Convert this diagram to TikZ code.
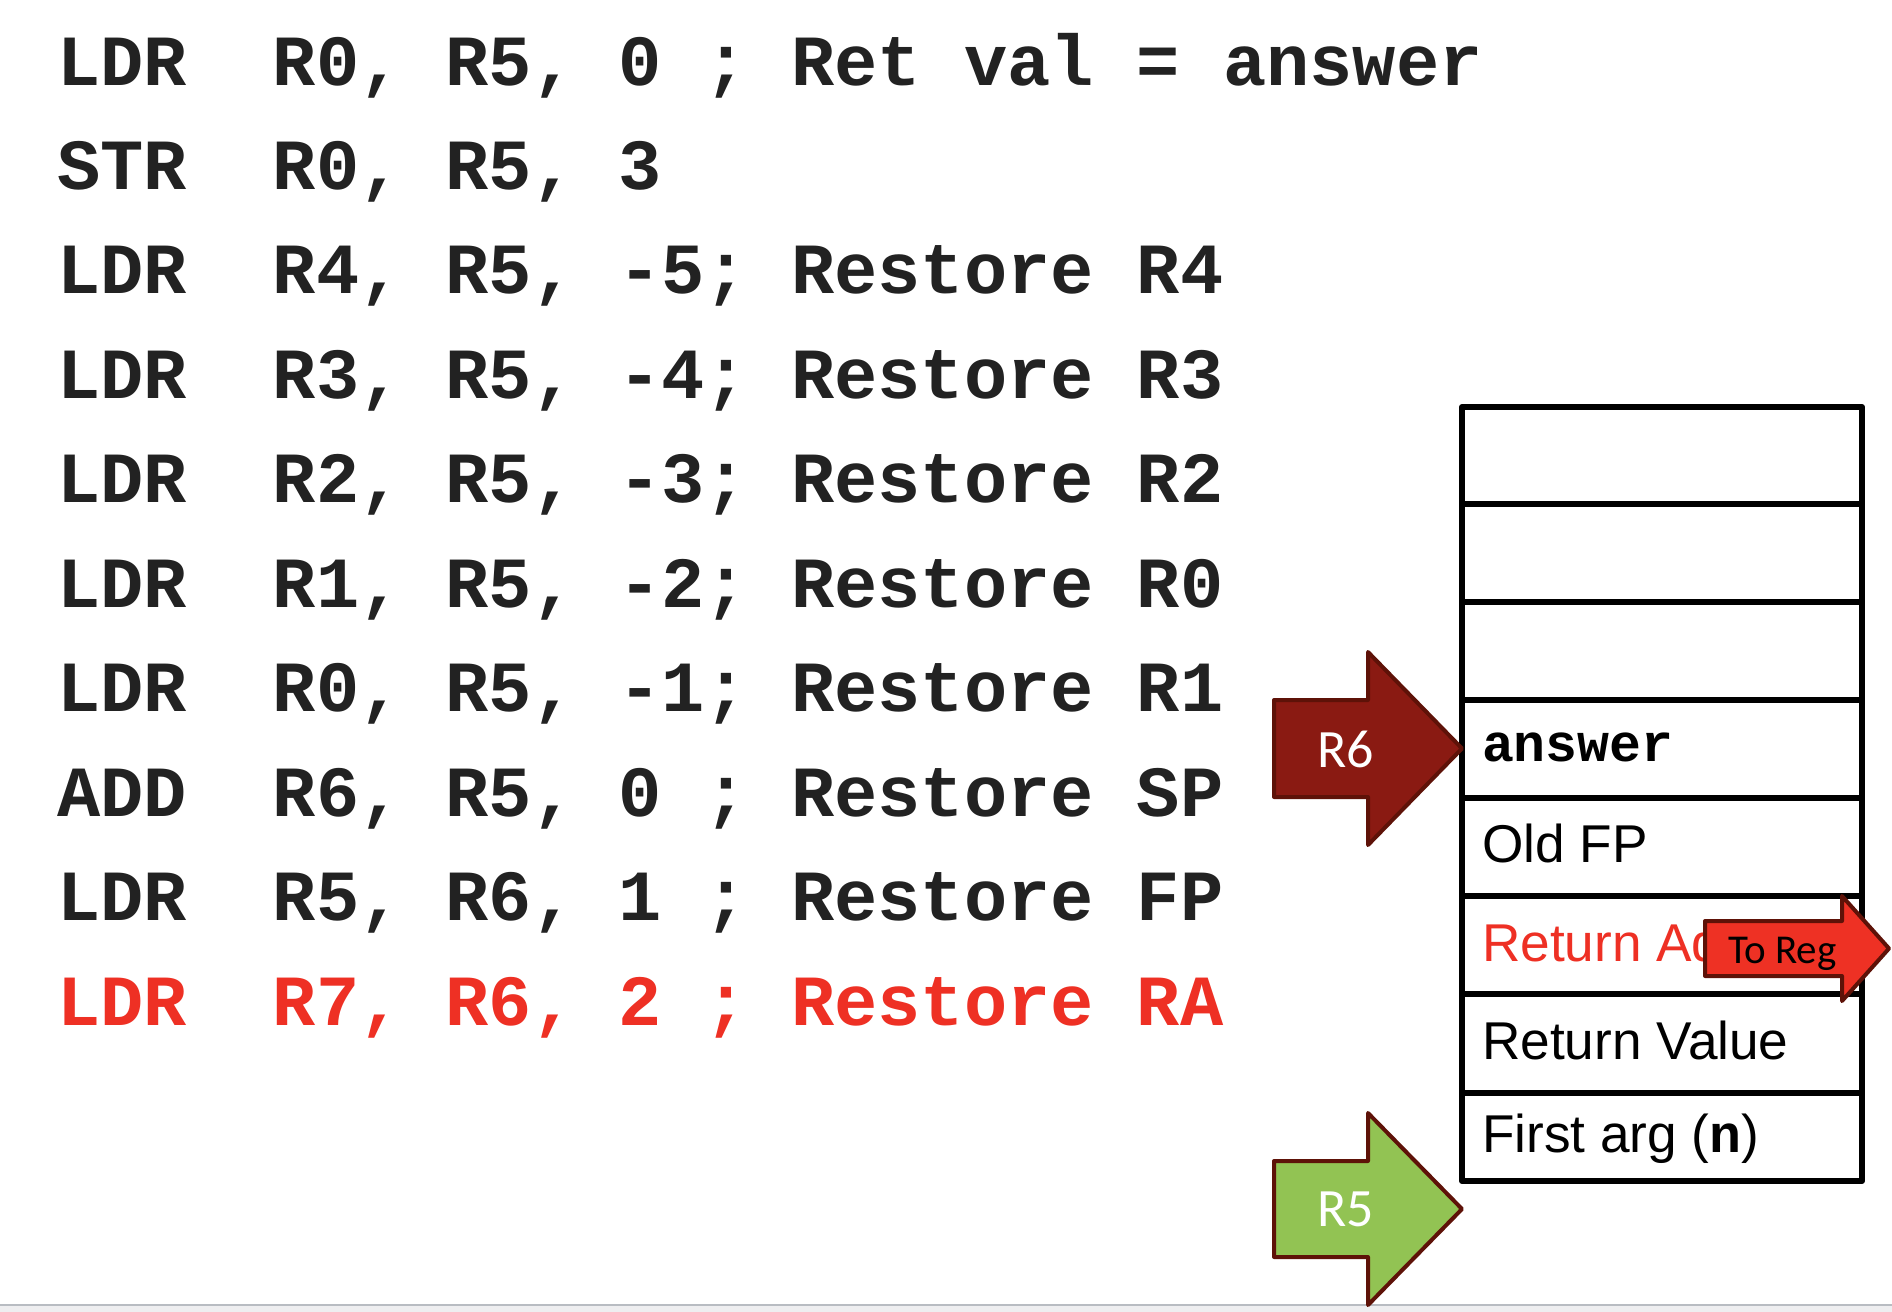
\documentclass[tikz,border=0pt]{standalone}
\usepackage{fontspec}
\setmainfont{Liberation Sans}
\newfontfamily\codefont{Liberation Mono}
\newfontfamily\calfont{Carlito}
\definecolor{codedark}{HTML}{222222}
\definecolor{codered}{HTML}{EE3024}
\definecolor{arrowdark}{HTML}{8A1A12}
\definecolor{arrowedge}{HTML}{5E1208}
\definecolor{arrowgreen}{HTML}{92C353}
\definecolor{arrowred}{HTML}{EE3124}
\definecolor{bandfill}{HTML}{EEEEF0}
\definecolor{bandline}{HTML}{B8BCC2}
\tikzset{
  codeline/.style={anchor=base west, inner sep=0pt, outer sep=0pt, text=codedark,
    font=\codefont\bfseries\fontsize{36}{36}\selectfont},
  cell/.style={anchor=base west, inner sep=0pt, outer sep=0pt, text=black,
    font=\fontsize{26.6}{26.6}\selectfont},
  stackline/.style={line width=3pt, draw=black, line join=round},
  bigarrow/.style={line width=2pt, draw=arrowedge, line join=round},
  arrowlabel/.style={anchor=base, inner sep=0pt, outer sep=0pt, text=white,
    font=\calfont\fontsize{27}{27}\selectfont},
}
\begin{document}
\begin{tikzpicture}[x=0.5pt,y=-0.5pt]
\useasboundingbox (0,0) rectangle (1892,1312);
\fill[white] (0,0) rectangle (1892,1312);
% bottom band
\fill[bandfill] (0,1305) rectangle (1892,1312);
\draw[bandline, line width=1pt] (0,1305) -- (1892,1305);

% code lines
\node[codeline] (c1) at (57,85) {LDR~~R0,~R5,~0~;~Ret~val~=~answer};
\node[codeline] (c2) at (57,189.4) {STR~~R0,~R5,~3};
\node[codeline] (c3) at (57,293.9) {LDR~~R4,~R5,~-5;~Restore~R4};
\node[codeline] (c4) at (57,398.3) {LDR~~R3,~R5,~-4;~Restore~R3};
\node[codeline] (c5) at (57,502.8) {LDR~~R2,~R5,~-3;~Restore~R2};
\node[codeline] (c6) at (57,607.2) {LDR~~R1,~R5,~-2;~Restore~R0};
\node[codeline] (c7) at (57,711.6) {LDR~~R0,~R5,~-1;~Restore~R1};
\node[codeline] (c8) at (57,816.1) {ADD~~R6,~R5,~0~;~Restore~SP};
\node[codeline] (c9) at (57,920.5) {LDR~~R5,~R6,~1~;~Restore~FP};
\node[codeline, text=codered] (c10) at (57,1025) {LDR~~R7,~R6,~2~;~Restore~RA};

% stack
\draw[stackline] (1462,407) rectangle (1862,1181);
\foreach \yy in {504,602,700,798,896,994,1093}
  \draw[stackline] (1462,\yy) -- (1862,\yy);
\node[cell] (sans) at (1482,761) {\codefont\bfseries answer};
\node[cell] (sfp) at (1482,862) {Old FP};
\node[cell, text=codered] (sra) at (1482,961) {Return Ad};
\node[cell] (srv) at (1482,1059) {Return Value};
\node[cell] (sarg) at (1482,1152) {First arg ({\codefont\bfseries n})};

% R6 arrow
\draw[bigarrow, fill=arrowdark] (1274,700) -- (1368,700) -- (1368,652) -- (1462,748.5)
  -- (1368,845) -- (1368,797) -- (1274,797) -- cycle;
\node[arrowlabel] (r6) at (1346,767) {R6};

% R5 arrow
\draw[bigarrow, fill=arrowgreen] (1274,1161) -- (1368,1161) -- (1368,1113) -- (1462,1209)
  -- (1368,1305) -- (1368,1257) -- (1274,1257) -- cycle;
\node[arrowlabel] (r5) at (1346,1226) {R5};

% To Reg arrow
\draw[bigarrow, fill=arrowred] (1705,921) -- (1842,921) -- (1842,896) -- (1889,948.5)
  -- (1842,1001) -- (1842,976) -- (1705,976) -- cycle;
\node[arrowlabel, text=black, anchor=base west, font=\calfont\fontsize{20.5}{20.5}\selectfont]
  (toreg) at (1728,963) {To Reg};
\end{tikzpicture}
\end{document}
